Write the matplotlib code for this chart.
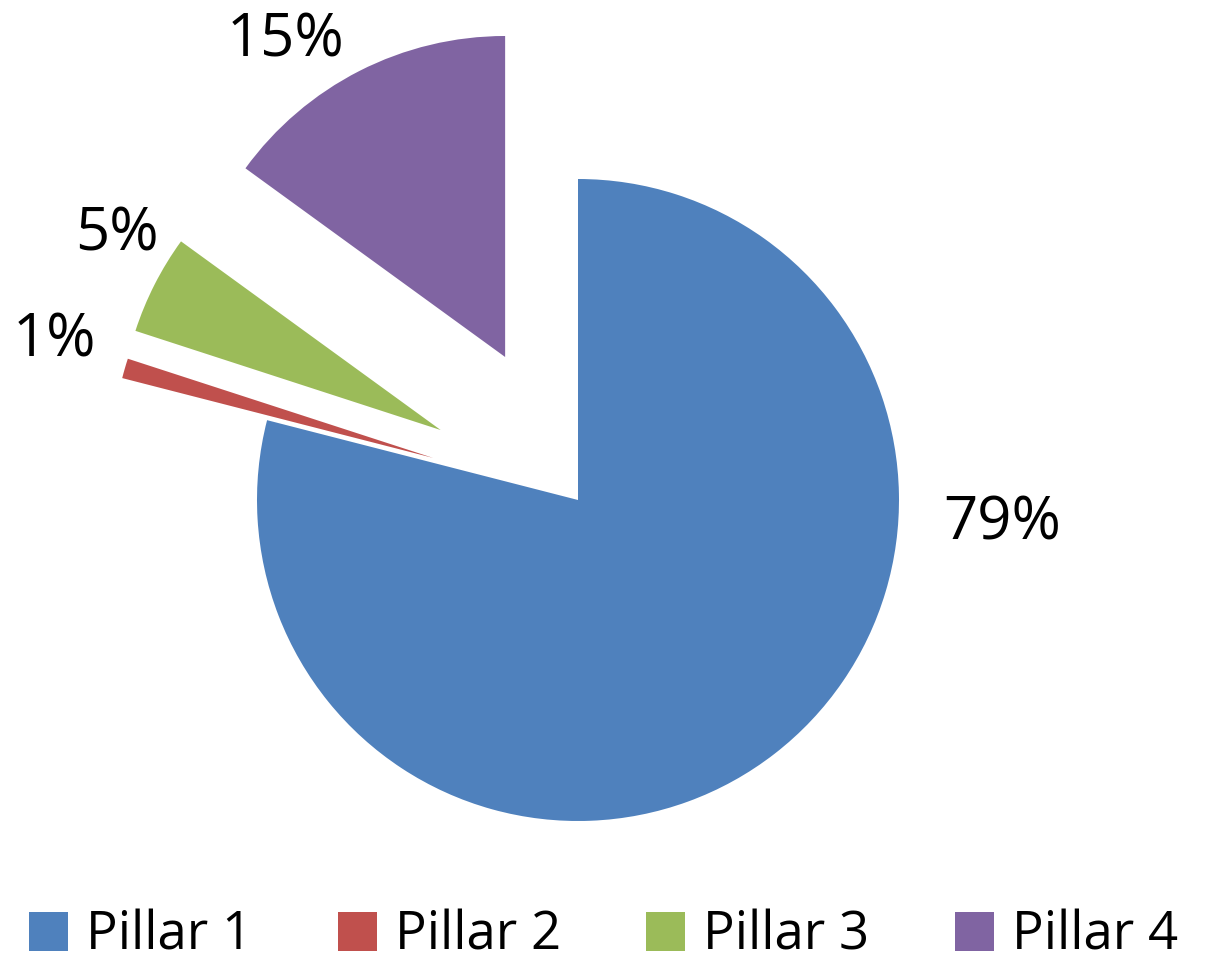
import matplotlib
matplotlib.use('Agg')
import matplotlib.pyplot as plt

plt.rcParams['font.family'] = ['Open Sans', 'DejaVu Sans']

labels = ['Pillar 1', 'Pillar 2', 'Pillar 3', 'Pillar 4']
shares = [79, 1, 5, 15]
pct_text = ['79%', '1%', '5%', '15%']
colors = ['#4F81BD', '#C0504D', '#9BBB59', '#8064A2']
explode = [0, 0.47, 0.48, 0.5]

# where the percentage labels sit (data units, pie radius = 1)
label_pos = [(1.321, -0.072), (-1.632, 0.498), (-1.436, 0.828), (-0.910, 1.430)]

fig = plt.figure(figsize=(12.07, 9.71), dpi=100)
ax = fig.add_axes([0, 0, 1, 1])

wedges, _ = ax.pie(shares, colors=colors, explode=explode, startangle=90,
                   counterclock=False, radius=1, center=(0, 0), frame=True,
                   wedgeprops=dict(linewidth=0))

for txt, (x, y) in zip(pct_text, label_pos):
    ax.text(x, y, txt, fontsize=43, ha='center', va='center', color='black')

ax.set_xlim(-578 / 321, (1207 - 578) / 321)
ax.set_ylim(-471 / 321, 500 / 321)
ax.set_aspect('auto')
ax.axis('off')

fig.legend(wedges, labels, loc='center', bbox_to_anchor=(0.5, 0.036), ncol=4,
           frameon=False, fontsize=38, handlelength=0.74, handleheight=0.74,
           handletextpad=0.34, columnspacing=1.62, borderpad=0)

fig.savefig('out.png', dpi=100)
